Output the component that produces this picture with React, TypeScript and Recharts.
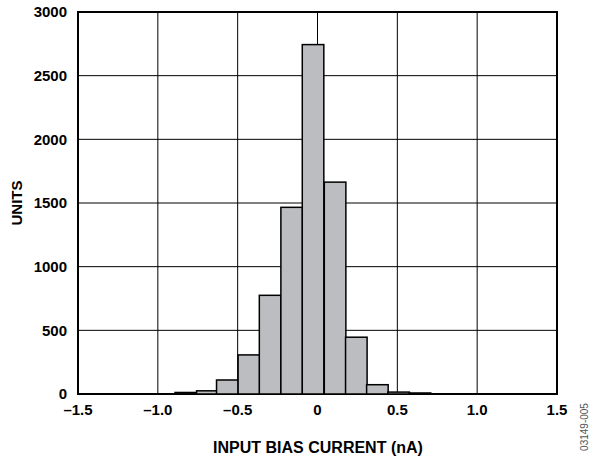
import { BarChart, Bar, XAxis, YAxis, CartesianGrid, ReferenceArea } from 'recharts'

// histogram bins: centre of each bin (nA) and count
const binCenters = [-0.825, -0.69, -0.565, -0.43, -0.297, -0.162, -0.028, 0.11, 0.243, 0.375, 0.508, 0.642]
const binCounts = [12, 25, 110, 307, 775, 1466, 2744, 1664, 446, 73, 15, 8]
const binWidth = 0.135

const xTicks = [-1.5, -1.0, -0.5, 0, 0.5, 1.0, 1.5]
const yTicks = [0, 500, 1000, 1500, 2000, 2500, 3000]

const data = binCenters.map((x, i) => ({ x, units: binCounts[i] }))

const W = 590
const H = 456
const margin = { top: 12, right: 33, left: 18, bottom: 32 }
const yAxisWidth = 60
const xAxisHeight = 30
const plotWidth = W - margin.left - margin.right - yAxisWidth
const barPx = (plotWidth * binWidth) / 3

const font = '"Liberation Sans", Arial, sans-serif'

const fmtX = (v: number) => {
  if (v === 0) return '0'
  const s = Math.abs(v).toFixed(1)
  return v < 0 ? `\u2013${s}` : s
}

// draw each bin at full bin width around the centre the scale gives
const HistBar = (props: any) => {
  const { x, y, width, height } = props
  if (height == null || height <= 0) return null
  const cx = x + width / 2
  return (
    <rect
      x={cx - barPx / 2}
      y={y}
      width={barPx}
      height={height}
      fill="#bcbdc0"
      stroke="#000"
      strokeWidth={1.5}
    />
  )
}

export default function App() {
  return (
    <div style={{ position: 'absolute', left: 0, top: 0, width: W, height: H, background: '#fff' }}>
      <BarChart width={W} height={H} data={data} margin={margin} barGap={0} barCategoryGap={0}>
        <CartesianGrid stroke="#000" strokeWidth={1} horizontalValues={yTicks} verticalValues={xTicks} />
        <XAxis
          dataKey="x"
          type="number"
          domain={[-1.5, 1.5]}
          ticks={xTicks}
          tickFormatter={fmtX}
          height={xAxisHeight}
          axisLine={false}
          tickLine={false}
          tickSize={0}
          tickMargin={10}
          tick={{ fill: '#000', fontSize: 15, fontWeight: 'bold', fontFamily: font }}
          interval={0}
        />
        <YAxis
          type="number"
          domain={[0, 3000]}
          ticks={yTicks}
          width={yAxisWidth}
          axisLine={false}
          tickLine={false}
          tickSize={0}
          tickMargin={11}
          tick={{ fill: '#000', fontSize: 15, fontWeight: 'bold', fontFamily: font }}
          interval={0}
        />
        <Bar dataKey="units" shape={HistBar} isAnimationActive={false} />
        <ReferenceArea x1={-1.5} x2={1.5} y1={0} y2={3000} fill="none" stroke="#000" strokeWidth={2} ifOverflow="visible" />
        <text
          x={16}
          y={203}
          transform="rotate(-90 16 203)"
          textAnchor="middle"
          dominantBaseline="central"
          style={{ fontFamily: font, fontSize: 15, fontWeight: 'bold' }}
        >
          UNITS
        </text>
        <text
          x={318}
          y={447}
          textAnchor="middle"
          dominantBaseline="central"
          style={{ fontFamily: font, fontSize: 16, fontWeight: 'bold' }}
        >
          INPUT BIAS CURRENT (nA)
        </text>
        <text
          x={584}
          y={427}
          transform="rotate(-90 584 427)"
          textAnchor="middle"
          dominantBaseline="central"
          fill="#555"
          style={{ fontFamily: font, fontSize: 10 }}
        >
          03149-005
        </text>
      </BarChart>
    </div>
  )
}
